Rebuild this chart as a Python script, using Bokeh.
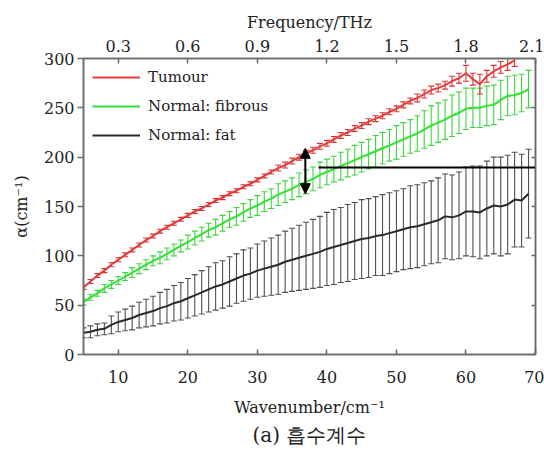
from bokeh.plotting import figure
from bokeh.models import (ColumnDataSource, Whisker, TeeHead, LinearAxis, Range1d,
                          FixedTicker, Arrow, NormalHead, Title)
from bokeh.embed import file_html
from bokeh.resources import INLINE

# ---------------- data ----------------
wn_tumour = list(range(5, 68))
tumour = [68, 74, 80, 85, 91, 96, 101, 106, 111, 116, 120, 125, 129, 133, 137, 141,
          145, 148, 152, 156, 159, 163, 166, 170, 173, 177, 181, 185, 189, 192, 196,
          200, 204, 207, 211, 214, 218, 222, 225, 229, 232, 236, 239, 242, 246, 249,
          253, 257, 260, 264, 268, 270, 273, 277, 280, 285, 279, 274, 282, 287, 291,
          294, 298]
tumour_err = [2, 2, 2, 2, 2, 2, 2, 2, 2, 2, 2, 2, 2, 2, 2, 2,
              2, 2, 2, 2, 2, 2, 2, 2, 2, 2, 2, 2, 3, 3, 3,
              3, 3, 3, 3, 3, 3, 3, 3, 3, 3, 3, 3, 3, 3, 3,
              3, 3, 4, 4, 4, 4, 4, 5, 5, 8, 6, 10, 6, 6, 6,
              6, 6]

wn_normal = list(range(5, 70))
fibrous = [53, 58, 62, 67, 71, 75, 79, 83, 87, 91, 95, 98, 102, 106, 110, 114,
           118, 122, 126, 129, 133, 137, 140, 144, 148, 151, 155, 158, 162, 165,
           168, 172, 175, 178, 182, 185, 188, 191, 194, 197, 200, 203, 206, 209,
           212, 215, 218, 221, 224, 228, 232, 235, 238, 242, 245, 249, 250, 250,
           252, 253, 258, 262, 263, 265, 269]
fibrous_err = [3, 3, 3, 4, 4, 4, 4, 5, 5, 5, 5, 6, 6, 6, 6, 7,
               7, 7, 7, 8, 8, 8, 9, 9, 9, 10, 10, 10, 11, 11,
               11, 12, 12, 12, 13, 13, 13, 14, 14, 15, 15, 15, 16, 16,
               16, 17, 17, 17, 18, 19, 20, 20, 20, 21, 21, 21, 20, 20,
               20, 20, 20, 20, 20, 19, 19]

fat = [22, 23, 25, 26, 30, 33, 35, 37, 40, 42, 44, 47, 49, 52, 54, 57,
       60, 63, 66, 69, 71, 74, 77, 80, 82, 85, 87, 89, 91, 94, 96, 98,
       100, 102, 104, 107, 109, 111, 113, 115, 117, 118, 120, 121, 123, 125,
       127, 129, 130, 132, 134, 136, 140, 139, 141, 145, 145, 144, 148, 151,
       150, 152, 157, 156, 163]
fat_err = [5, 6, 6, 6, 9, 10, 11, 12, 13, 14, 15, 16, 17, 18, 19, 20,
           21, 22, 23, 24, 24, 25, 25, 26, 26, 27, 28, 29, 30, 31, 32, 33,
           34, 35, 36, 37, 38, 38, 39, 39, 40, 40, 40, 41, 41, 41,
           41, 42, 42, 42, 42, 43, 43, 43, 44, 45, 46, 47, 48, 49,
           50, 50, 48, 47, 45]

thz_ticks = [0.3, 0.6, 0.9, 1.2, 1.5, 1.8, 2.1]
wn_ticks = [10, 20, 30, 40, 50, 60, 70]
alpha_ticks = [0, 50, 100, 150, 200, 250, 300]

# annotations
arrow_x, arrow_top, arrow_bottom = 36.9, 209, 163
hline_y, hline_x0, hline_x1 = 189.5, 38.8, 70

# ---------------- style ----------------
FONT = "DejaVu Serif"
RED, RED_E = "#e43c3c", "#d83434"
GREEN, GREEN_E = "#35e035", "#3fd43f"
BLACK, BLACK_E = "#2a2a2a", "#505050"
AX = "#6a6a6a"

p = figure(width=544, height=454, x_range=(5, 70), y_range=(0, 300),
           output_backend="svg", toolbar_location=None,
           min_border_left=83, min_border_top=58, min_border_right=9,
           min_border_bottom=100)
p.grid.visible = False
p.outline_line_color = AX
p.outline_line_width = 1.5
p.background_fill_color = "white"


def add_series(xs, ys, es, lc, ec, label):
    src = ColumnDataSource(dict(x=xs, y=ys,
                                upper=[a + b for a, b in zip(ys, es)],
                                lower=[a - b for a, b in zip(ys, es)]))
    w = Whisker(base="x", upper="upper", lower="lower", source=src,
                line_color=ec, line_width=1.1,
                upper_head=TeeHead(size=6, line_color=ec, line_width=1.1),
                lower_head=TeeHead(size=6, line_color=ec, line_width=1.1))
    p.add_layout(w)
    p.line("x", "y", source=src, line_color=lc, line_width=2, legend_label=label)


add_series(wn_normal, fat, fat_err, BLACK, BLACK_E, "Normal: fat")
add_series(wn_normal, fibrous, fibrous_err, GREEN, GREEN_E, "Normal: fibrous")
add_series(wn_tumour, tumour, tumour_err, RED, RED_E, "Tumour")

items = p.legend[0].items
p.legend[0].items = [items[2], items[1], items[0]]

p.add_layout(Arrow(x_start=arrow_x, y_start=arrow_bottom, x_end=arrow_x, y_end=arrow_top,
                   line_width=2, line_color="black",
                   start=NormalHead(size=10, fill_color="black", line_color="black"),
                   end=NormalHead(size=10, fill_color="black", line_color="black")))
p.segment(x0=[hline_x0], y0=[hline_y], x1=[hline_x1], y1=[hline_y],
          line_color="black", line_width=2)


def style_axis(ax):
    ax.axis_line_color = AX
    ax.axis_line_width = 1.5
    ax.major_tick_line_color = AX
    ax.major_tick_line_width = 1.5
    ax.minor_tick_line_color = None
    ax.major_label_text_font = FONT
    ax.major_label_text_font_size = "16px"
    ax.major_label_text_color = "#222"
    ax.axis_label_text_font = FONT
    ax.axis_label_text_font_size = "16px"
    ax.axis_label_text_font_style = "normal"
    ax.axis_label_text_color = "#222"


xa = p.xaxis[0]
xa.ticker = FixedTicker(ticks=wn_ticks)
xa.axis_label = "Wavenumber/cm⁻¹"
style_axis(xa)
xa.major_tick_in = 5
xa.major_tick_out = 0
xa.major_label_standoff = 16
xa.axis_label_standoff = 12

ya = p.yaxis[0]
ya.ticker = FixedTicker(ticks=alpha_ticks)
ya.axis_label = "α(cm⁻¹)"
style_axis(ya)
ya.major_tick_in = 0
ya.major_tick_out = 6
ya.major_label_standoff = 3
ya.axis_label_standoff = 10

p.extra_x_ranges = {"thz": Range1d(start=5 / 33.3333, end=70 / 33.3333)}
ta = LinearAxis(x_range_name="thz", ticker=FixedTicker(ticks=thz_ticks),
                axis_label="Frequency/THz")
style_axis(ta)
ta.major_tick_in = 5
ta.major_tick_out = 0
ta.major_label_standoff = 7
ta.axis_label_standoff = 5
p.add_layout(ta, "above")

ra = LinearAxis(ticker=FixedTicker(ticks=alpha_ticks))
style_axis(ra)
ra.major_tick_in = 4
ra.major_tick_out = 0
ra.major_label_text_font_size = "0px"
ra.major_label_text_color = None
p.add_layout(ra, "right")

cap = Title(text="(a) 흡수계수", align="center", text_font=FONT,
            text_font_size="20px", text_font_style="normal", text_color="#222",
            offset=-4, standoff=3)
p.add_layout(cap, "below")

lg = p.legend[0]
lg.location = "top_left"
lg.border_line_color = None
lg.background_fill_alpha = 0
lg.label_text_font = FONT
lg.label_text_font_size = "15px"
lg.label_text_color = "#222"
lg.glyph_width = 48
lg.label_standoff = 8
lg.spacing = 9
lg.margin = 9
lg.padding = 5

open("out.html", "w").write(file_html(p, INLINE))
